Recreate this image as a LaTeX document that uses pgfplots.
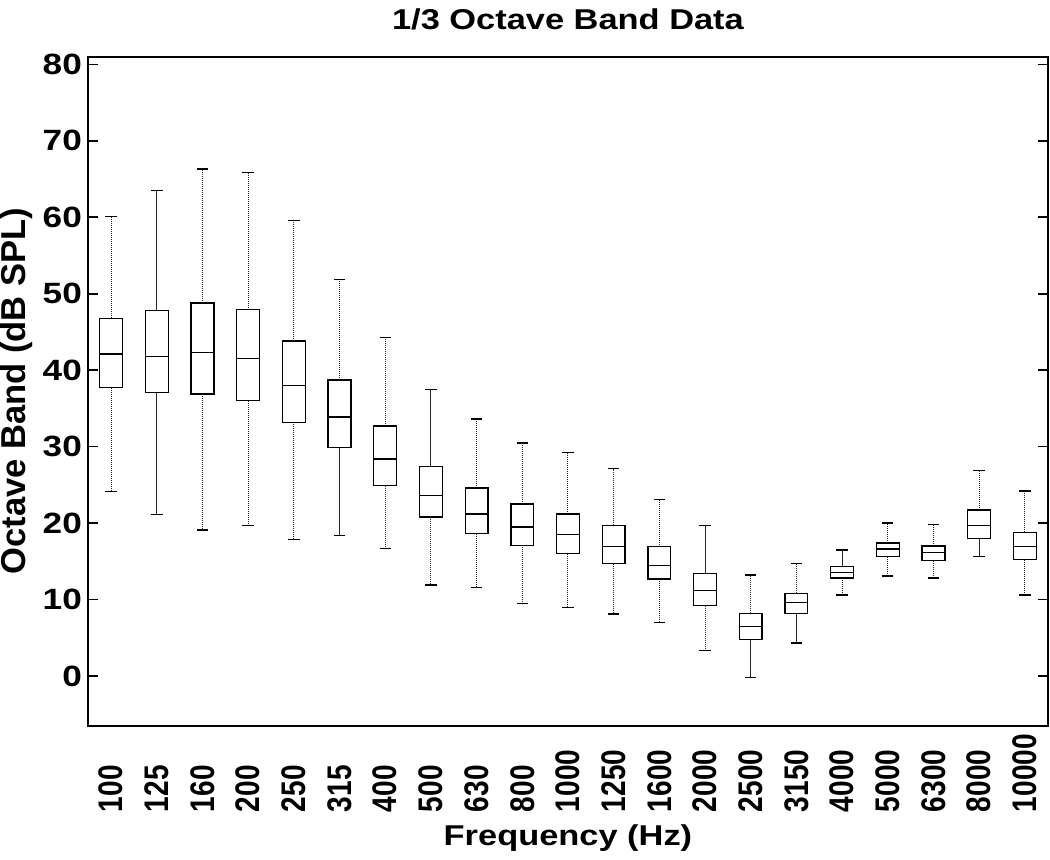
\documentclass[border=0pt]{standalone}
\usepackage{fontspec}
\setmainfont{Liberation Sans}[FakeStretch=1.2]
\newfontfamily\plainsans{Liberation Sans}
\usepackage{graphicx}
\usepackage{pgfplots}
\pgfplotsset{compat=1.18}
\usepgfplotslibrary{statistics}
\newcommand\sx[1]{\scalebox{1}[1.22]{#1}}
\newcommand\bx[6]{\addplot[draw=black, line width=1pt, solid,
  boxplot prepared={draw position=#1, lower whisker=#2, lower quartile=#3,
  median=#4, upper quartile=#5, upper whisker=#6, box extend=0.5, whisker extend=0.25}]
  coordinates {};}
\pgfplotsset{
  boxplot/draw direction=y,
  boxplot/draw/whisker/.code 2 args={%
    \draw[black!85, line width=0.75pt, dash pattern=on 0.9pt off 0.6pt] (boxplot cs:#1) -- (boxplot cs:#2);
    \draw[black, line width=1pt, solid] (boxplot whisker cs:#2,0) -- (boxplot whisker cs:#2,1);
  },
}
\begin{document}
\begin{tikzpicture}
\begin{axis}[
  name=ax, at={(0,0)}, anchor=south west,
  scale only axis, width=719.55pt, height=501.75pt,
  xmin=0.5, xmax=21.5, ymin=-6.5, ymax=81,
  boxplot/draw direction=y,
  ytick={0,10,...,80},
  xtick={1,...,21},
  xticklabels={\sx{100},\sx{125},\sx{160},\sx{200},\sx{250},\sx{315},\sx{400},\sx{500},\sx{630},\sx{800},\sx{1000},\sx{1250},\sx{1600},\sx{2000},\sx{2500},\sx{3150},\sx{4000},\sx{5000},\sx{6300},\sx{8000},\sx{10000}},
  xtick style={draw=none},
  ytick style={line width=1.2pt, black},
  major tick length=7pt, tick align=inside,
  axis line style={line width=1.4pt},
  /pgf/number format/assume math mode=true,
  yticklabel style={font=\bfseries\fontsize{22}{22}\selectfont, inner sep=0pt, xshift=-4.6pt},
  xticklabel style={rotate=90, anchor=west, font=\plainsans\bfseries\fontsize{21}{21}\selectfont, inner sep=0pt},
  xticklabel shift=65pt,
  title={1/3 Octave Band Data},
  every axis title/.style={at={(axis description cs:0.5,1)}, anchor=center, yshift=28.3pt, font=\bfseries\fontsize{21.5}{21.5}\selectfont},
  xlabel={Frequency (Hz)},
  every axis x label/.style={at={(axis description cs:0.5,-0.1686)}, anchor=center, font=\bfseries\fontsize{21.5}{21.5}\selectfont},
  ylabel={Octave Band (dB SPL)},
  every axis y label/.style={at={(axis description cs:-0.0744,0.5)}, rotate=90, anchor=center, font=\plainsans\bfseries\fontsize{25.9}{25.9}\selectfont},
]
\bx{1}{24.1}{37.7}{42.1}{46.8}{60.1}
\bx{2}{21.1}{37.1}{41.8}{47.8}{63.5}
\bx{3}{19.1}{36.9}{42.3}{48.8}{66.3}
\bx{4}{19.7}{36.0}{41.5}{47.9}{65.9}
\bx{5}{17.9}{33.2}{38.0}{43.8}{59.6}
\bx{6}{18.4}{29.9}{33.9}{38.7}{51.9}
\bx{7}{16.7}{24.9}{28.4}{32.7}{44.3}
\bx{8}{11.9}{20.8}{23.6}{27.4}{37.5}
\bx{9}{11.6}{18.6}{21.2}{24.6}{33.6}
\bx{10}{9.5}{17.1}{19.5}{22.5}{30.5}
\bx{11}{9.0}{16.0}{18.5}{21.2}{29.2}
\bx{12}{8.1}{14.7}{16.9}{19.7}{27.1}
\bx{13}{7.0}{12.7}{14.5}{16.9}{23.1}
\bx{14}{3.3}{9.2}{11.2}{13.4}{19.7}
\bx{15}{-0.2}{4.8}{6.5}{8.2}{13.2}
\bx{16}{4.3}{8.2}{9.6}{10.8}{14.7}
\bx{17}{10.6}{12.8}{13.5}{14.3}{16.5}
\bx{18}{13.1}{15.6}{16.6}{17.4}{20.0}
\bx{19}{12.8}{15.1}{16.2}{17.0}{19.8}
\bx{20}{15.6}{18.0}{19.7}{21.7}{26.9}
\bx{21}{10.6}{15.2}{16.9}{18.8}{24.2}
\end{axis}
\pgfresetboundingbox
\path[use as bounding box] (-66.2pt,-100pt) rectangle (721.3pt,544.3pt);
\end{tikzpicture}
\end{document}
